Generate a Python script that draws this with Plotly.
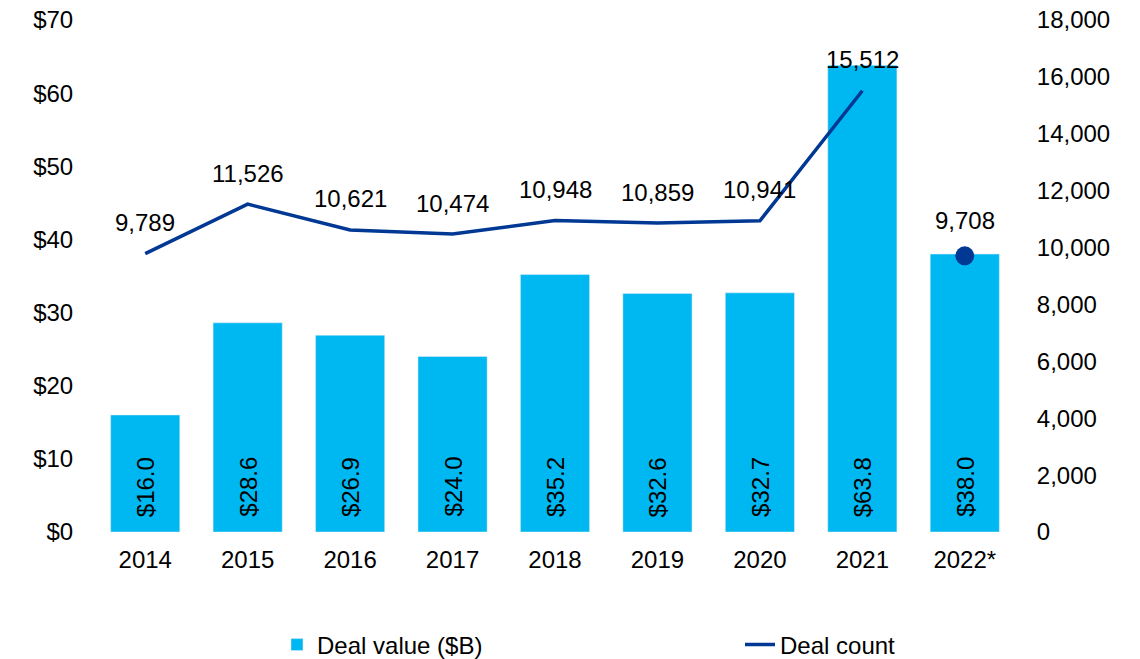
import plotly.graph_objects as go

years = ["2014", "2015", "2016", "2017", "2018", "2019", "2020", "2021", "2022*"]
deal_value = [16.0, 28.6, 26.9, 24.0, 35.2, 32.6, 32.7, 63.8, 38.0]
count_years = ["2014", "2015", "2016", "2017", "2018", "2019", "2020", "2021"]
deal_count = [9789, 11526, 10621, 10474, 10948, 10859, 10941, 15512]
partial_year = ["2022*"]
partial_count = [9708]

BAR = "#00B8F1"
LINE = "#003893"
FONT = "Liberation Sans, Arial, sans-serif"
FS = 24

fig = go.Figure()
fig.add_trace(go.Bar(
    x=years, y=deal_value, name="Deal value ($B)", marker_color=BAR,
    yaxis="y", legend="legend",
))
fig.add_trace(go.Scatter(
    x=count_years, y=deal_count, name="Deal count", mode="lines",
    line=dict(color=LINE, width=3.5), yaxis="y2", legend="legend2",
))
fig.add_trace(go.Scatter(
    x=partial_year, y=partial_count, mode="markers", showlegend=False,
    marker=dict(color=LINE, size=19), yaxis="y2",
))

# bar value labels, rotated, sitting near the base of each bar
for i, v in enumerate(deal_value):
    fig.add_annotation(x=i, y=0, xref="x", yref="y", text=f"${v:.1f}",
                       textangle=-90, showarrow=False, yanchor="bottom",
                       yshift=13, font=dict(size=FS, family=FONT, color="black"))

# deal-count labels (category axis -> use category index)
for x, v in zip(count_years, deal_count):
    fig.add_annotation(x=years.index(x), y=v, xref="x", yref="y2", text=f"{v:,}",
                       showarrow=False, yshift=31,
                       font=dict(size=FS, family=FONT, color="black"))
for x, v in zip(partial_year, partial_count):
    fig.add_annotation(x=years.index(x), y=v, xref="x", yref="y2", text=f"{v:,}",
                       showarrow=False, yshift=35,
                       font=dict(size=FS, family=FONT, color="black"))

fig.update_layout(
    width=1140, height=659,
    margin=dict(l=94, r=124, t=20, b=127),
    plot_bgcolor="white", paper_bgcolor="white",
    font=dict(family=FONT, size=FS, color="black"),
    bargap=0.325,
    xaxis=dict(type="category", range=[-0.5, len(years) - 0.5],
               showgrid=False, showline=False, zeroline=False,
               automargin=False, ticks="outside", ticklen=6, tickcolor="white",
               tickfont=dict(size=FS)),
    yaxis=dict(range=[0, 70], dtick=10, tickprefix="$", showgrid=False,
               showline=False, zeroline=False, automargin=False,
               ticks="outside", ticklen=15, tickcolor="white", tickfont=dict(size=FS)),
    yaxis2=dict(range=[0, 18000], dtick=2000, tickformat=",", overlaying="y",
                side="right", showgrid=False, showline=False, zeroline=False,
                automargin=False, ticks="outside", ticklen=15, tickcolor="white",
                tickfont=dict(size=FS)),
    legend=dict(orientation="h", xref="container", yref="container",
                x=277/1140, xanchor="left", y=14/659, yanchor="middle",
                font=dict(size=FS), bgcolor="rgba(0,0,0,0)"),
    legend2=dict(orientation="h", xref="container", yref="container",
                 x=740/1140, xanchor="left", y=14/659, yanchor="middle",
                 font=dict(size=FS), bgcolor="rgba(0,0,0,0)"),
    showlegend=True,
)

fig.write_html("out.html", config={"displayModeBar": False},
               post_script="document.body.style.margin='0';")
